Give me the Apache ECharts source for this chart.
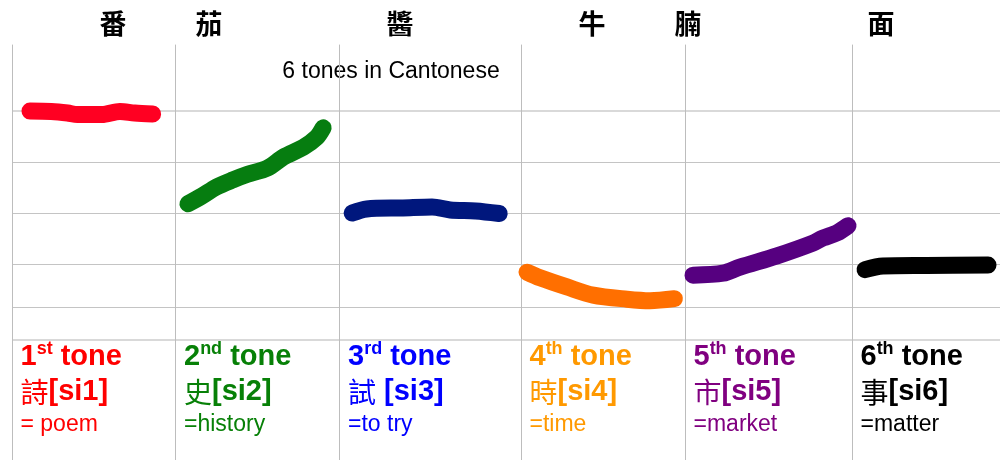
<!DOCTYPE html>
<html>
<head>
<meta charset="utf-8">
<script src="https://cdn.jsdelivr.net/npm/echarts@6/dist/echarts.min.js"></script>
<style>
  body { margin: 0; background: #fff; }
  #chart { width: 1000px; height: 460px; }
</style>
</head>
<body>
<div id="chart"></div>
<script>
// tone contours: [time 0-100 within the syllable, pitch level]
const tone1 = [[11, 5.0], [24, 4.99], [34, 4.96], [40, 4.93], [55, 4.93], [66, 4.99], [75, 4.96], [86, 4.94]];
const tone2 = [[7.6, 3.18], [16, 3.33], [25, 3.51], [35, 3.65], [44, 3.76], [56, 3.88], [66, 4.1], [78, 4.29], [86, 4.48], [90, 4.67]];
const tone3 = [[7, 3.0], [15, 3.08], [35, 3.1], [51, 3.12], [61, 3.06], [75, 3.04], [88, 2.99]];
const tone4 = [[3.7, 1.84], [11.6, 1.73], [28, 1.55], [44, 1.39], [64.6, 1.31], [78.7, 1.28], [93.5, 1.32]];
const tone5 = [[4.8, 1.78], [22.8, 1.82], [32.9, 1.94], [55.1, 2.16], [76.6, 2.41], [82.6, 2.51], [91, 2.61], [97.6, 2.75]];
const tone6 = [[8.8, 1.89], [20.9, 1.96], [50, 1.97], [91.9, 1.98]];
const contours = [tone1, tone2, tone3, tone4, tone5, tone6];

const toneNums = ['1', '2', '3', '4', '5', '6'];
const toneSuffix = ['st', 'nd', 'rd', 'th', 'th', 'th'];
const toneHanzi = ['詩', '史', '試', '時', '市', '事'];
const toneRoman = ['[si1]', '[si2]', ' [si3]', '[si4]', '[si5]', '[si6]'];
const toneGloss = ['= poem', '=history', '=to try', '=time', '=market', '=matter'];
const guideLevels = [5, 4, 3, 2, 1.16, 0.51];
const dishChars = ['番', '茄', '醬', '牛', '腩', '面'];

const strokeColors = ['#ff0022', '#067d10', '#00177d', '#ff6f00', '#560080', '#000000'];
const textColors = ['#ff0000', '#078007', '#0000ff', '#ff9900', '#800080', '#000000'];
const dishX = [113, 209, 400, 592, 688, 881];
const colEdges = [12, 175.5, 339.5, 521, 685, 852, 1000];
const yMin = -1.843, yMax = 6.294;

let chart = echarts.init(document.getElementById('chart'));

let grids = [], xAxes = [], yAxes = [], series = [], titles = [];
for (let i = 0; i < 6; i++) {
  grids.push({
    left: colEdges[i], width: colEdges[i + 1] - colEdges[i], top: 45, bottom: 0
  });
  xAxes.push({ gridIndex: i, type: 'value', min: 0, max: 100, show: false });
  yAxes.push({
    gridIndex: i, type: 'value', min: yMin, max: yMax, z: 0,
    axisLine: { show: true, lineStyle: { color: '#bdbdbd', width: 1 } },
    axisTick: { show: false }, axisLabel: { show: false }, splitLine: { show: false }
  });
  // guide lines behind the strokes
  series.push({
    type: 'line', xAxisIndex: i, yAxisIndex: i, data: [], z: 0, silent: true,
    markLine: {
      silent: true, z: 0, symbol: ['none', 'none'], label: { show: false }, animation: false,
      data: guideLevels.map((v, k) => ({
        yAxis: v,
        lineStyle: {
          type: 'solid',
          color: (k === 0 || k === guideLevels.length - 1) ? '#d9d9d9' : '#c4c4c4',
          width: (k === 0 || k === guideLevels.length - 1) ? 2 : 1
        }
      }))
    }
  });
  series.push({
    type: 'line', xAxisIndex: i, yAxisIndex: i, data: contours[i], z: 10,
    smooth: 0.3, showSymbol: false, clip: false, silent: true, animation: false,
    lineStyle: { color: strokeColors[i], width: 17, cap: 'round', join: 'round' }
  });
  titles.push({
    left: colEdges[i] + 8.5, top: 340, padding: 0,
    text: '{num|' + toneNums[i] + '}{sup|' + toneSuffix[i] + '}{word| tone}\n' +
      '{hanzi|' + toneHanzi[i] + '}{rom|' + toneRoman[i] + '}\n{gloss|' + toneGloss[i] + '}',
    textStyle: {
      color: textColors[i], fontFamily: 'Liberation Sans, Arial, sans-serif',
      rich: {
        num: { fontSize: 29, fontWeight: 'bold', lineHeight: 34, color: textColors[i] },
        sup: { fontSize: 18, fontWeight: 'bold', lineHeight: 30, verticalAlign: 'top', color: textColors[i] },
        word: { fontSize: 29, fontWeight: 'bold', lineHeight: 34, color: textColors[i] },
        hanzi: { fontSize: 28, fontFamily: 'Noto Sans CJK TC', fontWeight: 'normal', lineHeight: 36, color: textColors[i] },
        rom: { fontSize: 29, fontWeight: 'bold', lineHeight: 36, color: textColors[i] },
        gloss: { fontSize: 23, fontWeight: 'normal', lineHeight: 30, color: textColors[i] }
      }
    }
  });
}

let graphics = dishChars.map((c, i) => ({
  type: 'text', x: dishX[i], y: 24,
  style: {
    text: c, fill: '#000', font: 'bold 27px "Noto Sans CJK TC"',
    textAlign: 'center', textVerticalAlign: 'middle'
  }
}));
graphics.push({
  type: 'text', x: 391, y: 72,
  style: {
    text: '6 tones in Cantonese', fill: '#000', font: '23px "Liberation Sans", Arial, sans-serif',
    textAlign: 'center', textVerticalAlign: 'middle'
  }
});

let option = {
  animation: false,
  backgroundColor: '#fff',
  title: titles,
  grid: grids,
  xAxis: xAxes,
  yAxis: yAxes,
  series: series,
  graphic: graphics
};
chart.setOption(option);
</script>
</body>
</html>
